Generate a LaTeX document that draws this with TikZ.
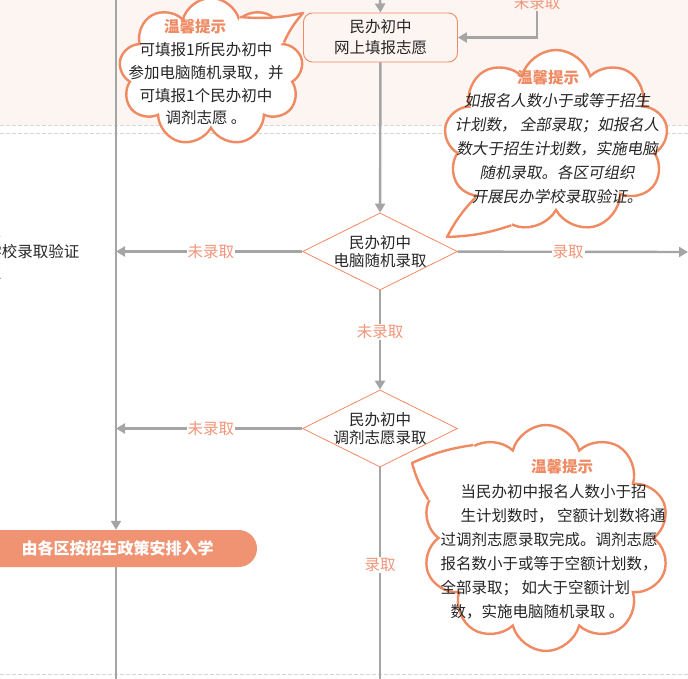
\documentclass[tikz,border=0pt]{standalone}
\usepackage{fontspec}
\newfontfamily\cjk{Noto Sans CJK SC}
\newfontfamily\cjkslant[FakeSlant=0.18]{Noto Sans CJK SC}
\usetikzlibrary{arrows.meta,shapes.geometric,shapes.symbols}
\definecolor{tipred}{HTML}{F08A62}
\definecolor{labelred}{HTML}{F2957A}
\definecolor{flowgray}{HTML}{A5A5A5}
\definecolor{bandpink}{HTML}{FDF5F2}
\definecolor{barred}{HTML}{EF9372}
\definecolor{dashgray}{HTML}{D6D6D6}
\begin{document}
\begin{tikzpicture}[x=1pt,y=-1pt,
  >={Triangle[length=9pt,width=10pt]},
  every node/.style={font=\cjk\fontsize{15.5}{21}\selectfont,text=black!85},
  flow/.style={draw=flowgray,line width=2.4pt},
  decide/.style={diamond,aspect=2,draw=tipred,line width=0.8pt,fill=white,minimum width=155pt,minimum height=77pt,inner sep=-8pt,align=center,font=\cjk\fontsize{15.5}{18.5}\selectfont},
  answer/.style={text=labelred,fill=white,inner sep=1pt},
  bubble/.style={cloud,cloud puffs=9,cloud ignores aspect,draw=tipred,line width=2.4pt,fill=white},
  tail/.style={draw=tipred,line width=2.4pt,line join=round},
  tiptitle/.style={text=tipred,font=\cjk\fontsize{15.5}{18}\selectfont\bfseries},
  tiptext/.style={font=\cjk\fontsize{15.5}{24}\selectfont}]
\useasboundingbox (0,0) rectangle (688,679);
\clip (0,0) rectangle (688,679);
\fill[bandpink] (0,0) rectangle (688,125);
\foreach \y in {125.5,133,674}
  \draw[dashgray,dash pattern=on 4pt off 2pt] (0,\y) -- (688,\y);

\coordinate (ltop) at (116,0);
\coordinate (lbot) at (116,679);
\coordinate (ctop) at (380,0);
\coordinate (cbot) at (380,679);
\coordinate (rtop) at (537,0);
\coordinate (rend) at (688,252);

\node (cut1) [anchor=east] at (5,231) {各区可组织};
\node (cut2) [anchor=east] at (83,252) {开展民办学校录取验证};
\node (cut3) [anchor=east] at (5,273) {录取};

\node (fill) [draw=tipred,line width=0.9pt,rounded corners=9pt,minimum width=154pt,minimum height=49pt,align=center,inner sep=0pt] at (380.5,37.5) {民办初中\\网上填报志愿};
\node (pick) [decide] at (380,251.5) {民办初中\\电脑随机录取};
\node (swap) [decide] at (380,428.5) {民办初中\\调剂志愿录取};

\draw[flow,->] (ctop) -- (fill.north);
\draw[flow,->] (rtop) |- (fill.east);
\node (back) [answer,fill=bandpink] at (537,3) {未录取};
\draw[flow,->] (fill) -- (pick);
\draw[flow,->] (pick) -- (swap) node[answer,pos=0.42] {未录取};
\draw[flow] (swap) -- (cbot) node[answer,pos=0.46] {录取};
\draw[flow,->] (pick) -- (rend) node[answer,pos=0.48] {录取};
\foreach \n in {pick,swap}
  \draw[flow,->] (\n) -- (\n.west -| ltop) node[answer,pos=0.49] {未录取};

\node (bar) [fill=barred,rounded corners=18.5pt,minimum width=290pt,minimum height=37pt,inner sep=0pt] at (112,548.5) {};
\draw[flow,->] (ltop) -- (ltop |- bar.north);
\draw[flow] (ltop |- bar.south) -- (lbot);
\node (settle) [anchor=west,text=white,font=\cjk\fontsize{16}{16}\selectfont\bfseries] at (18,548.5) {由各区按招生政策安排入学};

\node (tip1) [bubble,minimum width=184pt,minimum height=148pt] at (211,72) {};
\coordinate (end1) at (303,13);
\fill[white] (tip1.center) -- (tip1.62) to[bend right=8] (end1) to[bend right=8] (tip1.22) -- cycle;
\draw[tail] (tip1.62) to[bend right=8] (end1) to[bend right=8] (tip1.22);
\node (title1) [tiptitle] at (195,27) {温馨提示};
\node (text1) [tiptext,align=center,font=\cjk\fontsize{15.5}{22.7}\selectfont] at (206,84) {可填报1所民办初中\\参加电脑随机录取，并\\可填报1个民办初中\\调剂志愿 。};

\node (tip2) [bubble,minimum width=224pt,minimum height=182pt] at (556,141) {};
\coordinate (end2) at (447,237);
\fill[white] (tip2.center) -- (tip2.215) to[bend right=8] (end2) to[bend right=8] (tip2.242) -- cycle;
\draw[tail] (tip2.215) to[bend right=8] (end2) to[bend right=8] (tip2.242);
\node (title2) [tiptitle] at (548,78) {温馨提示};
\node (text2) [tiptext,align=center,font=\cjkslant\fontsize{15.5}{24}\selectfont] at (557,149) {如报名人数小于或等于招生\\计划数， 全部录取；如报名人\\数大于招生计划数，实施电脑\\随机录取。各区可组织\\开展民办学校录取验证。};

\node (tip3) [bubble,cloud puffs=10,minimum width=248pt,minimum height=226pt] at (546,538) {};
\coordinate (end3) at (412,463);
\fill[white] (tip3.center) -- (tip3.128) to[bend right=8] (end3) to[bend right=8] (tip3.162) -- cycle;
\draw[tail] (tip3.128) to[bend right=8] (end3) to[bend right=8] (tip3.162);
\node (title3) [tiptitle] at (562,467) {温馨提示};
\node (text3) [tiptext,align=left,anchor=west] at (437,552) {\hspace*{20pt}当民办初中报名人数小于招\\\hspace*{20pt}生计划数时， 空额计划数将通\\过调剂志愿录取完成。调剂志愿\\报名数小于或等于空额计划数，\\全部录取； 如大于空额计划\\\hspace*{10pt}数，实施电脑随机录取 。};
\end{tikzpicture}
\end{document}
